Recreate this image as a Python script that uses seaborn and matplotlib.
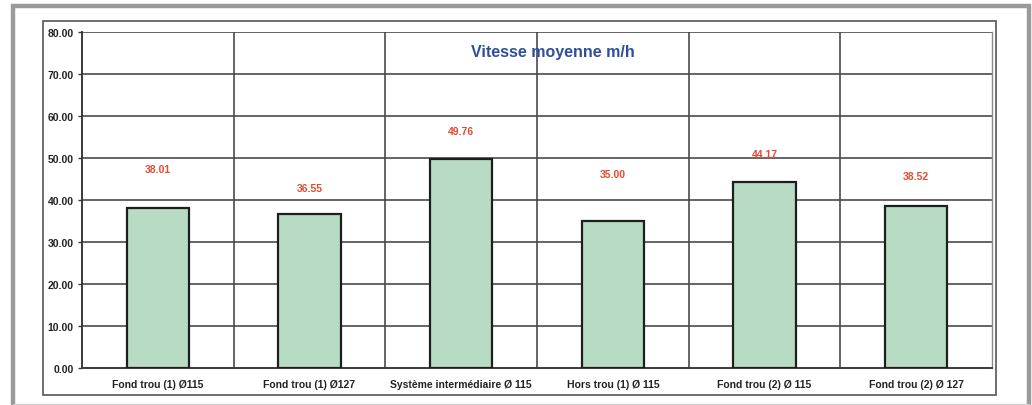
import matplotlib
matplotlib.use("Agg")
import matplotlib.pyplot as plt
from matplotlib.lines import Line2D
import matplotlib.patches as mpatches
import numpy as np
import pandas as pd
import seaborn as sns

# Average drilling speed per hole type
categories = [
    "Fond trou (1) Ø115",
    "Fond trou (1) Ø127",
    "Système intermédiaire Ø 115",
    "Hors trou (1) Ø 115",
    "Fond trou (2) Ø 115",
    "Fond trou (2) Ø 127",
]
speeds = [38.01, 36.55, 49.76, 35.00, 44.17, 38.52]
value_labels = ["38.01", "36.55", "49.76", "35.00", "44.17", "38.52"]
y_ticks = [0, 10, 20, 30, 40, 50, 60, 70, 80]

# Height (in axis units) above each bar where its value label sits
label_gap = [9.4, 6.2, 6.6, 11.2, 6.7, 7.2]

sns.set_style("white")
plt.rcParams["font.family"] = ["Liberation Sans", "DejaVu Sans"]

W, H = 1032, 406
fig = plt.figure(figsize=(W / 100, H / 100), dpi=100)
fig.patch.set_facecolor("white")


def px_line(xs, ys, **kw):
    fig.add_artist(Line2D([x / W for x in xs], [1 - y / H for y in ys],
                          transform=fig.transFigure, **kw))


# Outer grey frame: heavy on left, top and right, light along the bottom
px_line([13, 13, 1029, 1029], [405, 7, 7, 405], color="#9a9a9a",
        linewidth=3.2, solid_joinstyle="miter")
px_line([13, 1029], [404.5, 404.5], color="#d0d0d0", linewidth=1.0)

# Inner chart border
fig.add_artist(mpatches.Rectangle((43 / W, 1 - 396 / H), 953 / W, 374 / H,
                                  transform=fig.transFigure, fill=False,
                                  edgecolor="#555555", linewidth=1.2))

ax = fig.add_axes([82 / W, 1 - 369 / H, 910 / W, 336 / H])

df = pd.DataFrame({"cat": categories, "speed": speeds})
sns.barplot(data=df, x="cat", y="speed", ax=ax, color="#b8dbc4",
            saturation=1, width=0.41, edgecolor="#1e1e1e", linewidth=1.6,
            zorder=3)

ax.set_ylim(0, 80)
ax.set_xlim(-0.5, len(categories) - 0.5)
ax.set_yticks(y_ticks)
ax.set_yticklabels([f"{v:.2f}" for v in y_ticks], fontsize=7.5,
                   fontweight="bold", color="#222222")
ax.set_xticks(range(len(categories)))
ax.set_xticklabels(categories, fontsize=7.5, fontweight="bold", color="#222222")
ax.set_xlabel("")
ax.set_ylabel("")

# Horizontal grid at every tick, vertical lines between categories
for v in y_ticks[1:]:
    ax.axhline(v, color="#4a4a4a", linewidth=1.2, zorder=1)
for b in np.arange(0.5, len(categories) - 0.5, 1.0):
    ax.axvline(b, color="#4a4a4a", linewidth=1.2, zorder=1)

ax.spines["top"].set_visible(False)
ax.spines["right"].set_color("#8a8a8a")
ax.spines["right"].set_linewidth(1.0)
for s in ["left", "bottom"]:
    ax.spines[s].set_color("#3a3a3a")
    ax.spines[s].set_linewidth(1.4)

ax.tick_params(axis="y", length=3, width=1, color="#3a3a3a", pad=3, left=True)
ax.tick_params(axis="x", length=0, pad=8)

for i, (v, txt, g) in enumerate(zip(speeds, value_labels, label_gap)):
    ax.text(i, v + g, txt, ha="center", va="center", fontsize=7.5,
            fontweight="bold", color="#e5492f", zorder=4)

ax.text(553 / W, 1 - 53 / H, "Vitesse moyenne m/h", transform=fig.transFigure,
        ha="center", va="center", fontsize=11.5, fontweight="bold",
        color="#2f4f9c")

fig.savefig("out.png", dpi=100, facecolor="white")
